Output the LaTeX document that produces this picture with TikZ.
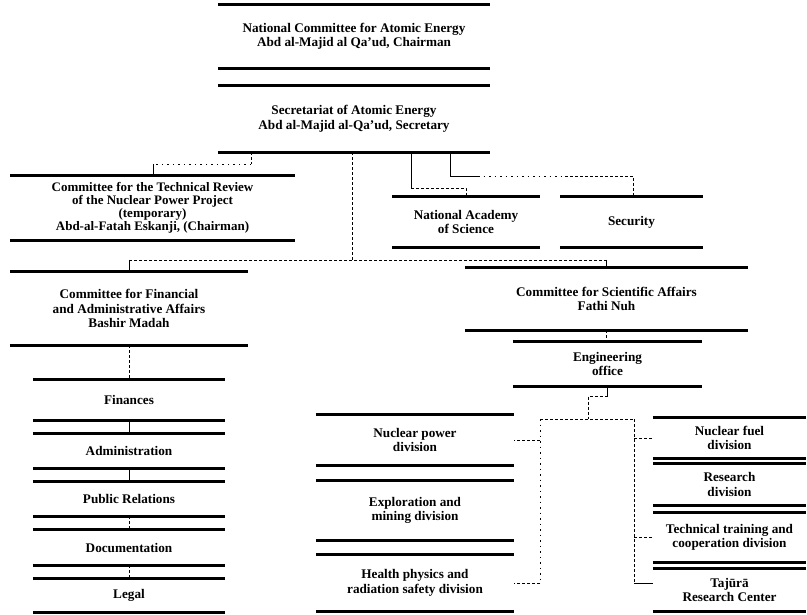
\documentclass[tikz,border=0pt]{standalone}
\usepackage{fontspec}
\setmainfont{Liberation Serif}
\usetikzlibrary{calc}
\newcommand{\boxfont}{\fontsize{13.2}{14.5}\selectfont\bfseries}
\newcommand{\techfont}{\fontsize{13}{13.2}\selectfont\bfseries}
\begin{document}
\begin{tikzpicture}[x=1pt,y=-1pt,
  bar/.style={draw=black,line width=3.2pt},
  orgbox/.style={inner sep=0pt,align=center,font=\boxfont,
     append after command={(\tikzlastnode.north west) edge[bar] (\tikzlastnode.north east)
                           (\tikzlastnode.south west) edge[bar] (\tikzlastnode.south east)}},
  conn/.style={draw=black,line width=0.9pt},
  dconn/.style={conn,dash pattern=on 3pt off 2pt},
  sconn/.style={conn,dash pattern=on 1.5pt off 4pt}
]
\useasboundingbox[fill=white] (0,0) rectangle (807,615);

% top
\node[orgbox,minimum width=272pt,minimum height=63pt] (natcomm) at (354,36.5)
  {National Committee for Atomic Energy\\Abd al-Majid al Qa'ud, Chairman};
\node[orgbox,minimum width=272pt,minimum height=66pt] (secr) at (354,119)
  {Secretariat of Atomic Energy\\Abd al-Majid al-Qa'ud, Secretary};

% second level
\node[orgbox,font=\techfont,minimum width=285pt,minimum height=64pt] (techrev) at (152.5,208)
  {Committee for the Technical Review\\of the Nuclear Power Project\\(temporary)\\Abd-al-Fatah Eskanji, (Chairman)};
\node[orgbox,minimum width=148pt,minimum height=50pt] (natacad) at (466,222)
  {National Academy\\of Science};
\node[orgbox,minimum width=143pt,minimum height=50pt] (security) at (631.5,222)
  {Security};

% committees
\node[orgbox,minimum width=238pt,minimum height=73pt] (fin) at (129,308.5)
  {Committee for Financial\\and Administrative Affairs\\Bashir Madah};
\node[orgbox,minimum width=283pt,minimum height=62pt] (scia) at (606.5,299)
  {Committee for Scientific Affairs\\Fathi Nuh};
\node[orgbox,minimum width=189pt,minimum height=44pt] (eng) at (607.5,364)
  {Engineering\\office};

% left column
\node[orgbox,minimum width=192pt,minimum height=40pt] (fin1) at (129,400) {Finances};
\node[orgbox,minimum width=192pt,minimum height=34pt] (adm) at (129,451) {Administration};
\node[orgbox,minimum width=192pt,minimum height=34pt] (pr) at (129,499) {Public Relations};
\node[orgbox,minimum width=192pt,minimum height=35pt] (doc) at (129,547.5) {Documentation};
\node[orgbox,minimum width=192pt,minimum height=33pt] (legal) at (129,595.5) {Legal};

% middle column
\node[orgbox,minimum width=198pt,minimum height=50pt] (nucp) at (415,440)
  {Nuclear power\\division};
\node[orgbox,minimum width=198pt,minimum height=59pt] (expl) at (415,510.5)
  {Exploration and\\mining division};
\node[orgbox,minimum width=198pt,minimum height=56pt] (health) at (415,583)
  {Health physics and\\radiation safety division};

% right column
\node[orgbox,minimum width=153pt,minimum height=40pt] (nucf) at (729.5,438)
  {Nuclear fuel\\division};
\node[orgbox,minimum width=153pt,minimum height=41pt] (res) at (729.5,484.5)
  {Research\\division};
\node[orgbox,minimum width=153pt,minimum height=49pt] (tech) at (729.5,537.5)
  {Technical training and\\cooperation division};
\node[orgbox,minimum width=153pt,minimum height=42pt] (taj) at (729.5,590)
  {Tajūrā\\Research Center};

% secretariat -> technical review
\coordinate (a1) at (251,164);
\coordinate (a2) at (153,164);
\draw[dconn] (secr.south -| a1) -- (a1);
\draw[sconn] (a1) -- (a2);
\draw[conn] (a2) -- (techrev.north -| a2);

% secretariat -> national academy
\coordinate (b1) at (411,188);
\draw[conn] (secr.south -| b1) -- (b1);
\draw[dconn] (b1) -| (natacad.north);

% secretariat -> security
\coordinate (c1) at (450,176);
\coordinate (c2) at (478,176);
\coordinate (c3) at (633,176);
\draw[conn] (secr.south -| c1) -- (c1) -- (c2);
\draw[sconn] (c2) -- (565,176);
\draw[dconn] (565,176) -- (c3) -- (security.north -| c3);

% secretariat -> committees
\coordinate (d1) at (352,260);
\draw[dconn] (secr.south -| d1) -- (d1);
\draw[dconn] (fin.north |- d1) -- (scia.north |- d1);
\draw[conn] (fin.north |- d1) -- (fin.north);
\draw[conn] (scia.north |- d1) -- (scia.north);

% financial chain
\draw[dconn] (fin.south) -- (fin1.north);
\draw[conn] (fin1.south) -- (adm.north);
\draw[conn] (adm.south) -- (pr.north);
\draw[dconn] (pr.south) -- (doc.north);
\draw[dconn] (doc.south) -- (legal.north);

% scientific chain
\draw[dconn] (scia.south) -- (scia.south |- eng.north);
\coordinate (e1) at (607.5,396);
\coordinate (e2) at (588,419);
\coordinate (eL) at (540,419);
\coordinate (eR) at (634,419);
\coordinate (tajin) at ($(taj.west)+(0,-7)$);
\draw[conn] (eng.south) -- (e1);
\draw[dconn] (e1) -| (e2);
\draw[dconn] (eL) -- (eR);
\draw[sconn] (eL) -- (eL |- health.east);
\draw[dconn] (eL |- health.east) -- (health.east);
\draw[dconn] (eL |- nucp.east) -- (nucp.east);
\draw[dconn] (eR) -- (eR |- tajin);
\draw[dconn] (eR |- nucf.west) -- (nucf.west);
\draw[dconn] (eR |- tech.west) -- (tech.west);
\draw[conn] (eR |- tajin) -- (tajin);
\end{tikzpicture}
\end{document}
